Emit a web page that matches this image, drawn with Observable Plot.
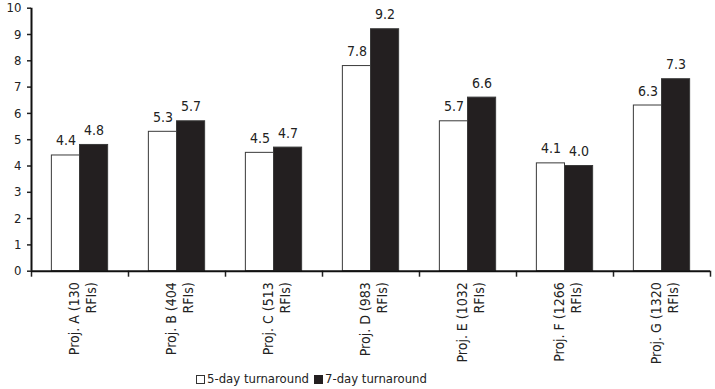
<!DOCTYPE html>
<html>
<head>
<meta charset="utf-8">
<script src="https://cdn.jsdelivr.net/npm/d3@7"></script>
<script src="https://cdn.jsdelivr.net/npm/@observablehq/plot@0.6"></script>
<style>
  html, body { margin: 0; padding: 0; background: #fff; }
  body { font-family: "DejaVu Sans Condensed", "Liberation Sans", sans-serif; color: #222; }
  #chart svg { display: block; }
  .legend { display: flex; align-items: center; height: 22px; padding-left: 196px; font-size: 13px; line-height: 22px; }
  .legend .sw { display: inline-block; width: 9px; height: 9px; box-sizing: border-box; margin-right: 2px; }
  .legend .item { display: flex; align-items: center; margin-right: 5px; }
</style>
</head>
<body>
<div id="chart"></div>
<div class="legend">
  <span class="item"><span class="sw" style="background:#fff;border:1px solid #333"></span><span id="lab5"></span></span>
  <span class="item"><span class="sw" style="background:#231f20"></span><span id="lab7"></span></span>
</div>
<script>
// Projects and their RFI counts
const projects = ["A", "B", "C", "D", "E", "F", "G"];
const rfis = [130, 404, 513, 983, 1032, 1266, 1320];

// Series names and values
const seriesNames = ["5-day turnaround", "7-day turnaround"];
const fiveDay = [4.4, 5.3, 4.5, 7.8, 5.7, 4.1, 6.3];
const sevenDay = [4.8, 5.7, 4.7, 9.2, 6.6, 4.0, 7.3];

// Y axis ticks
const yTicks = [0, 1, 2, 3, 4, 5, 6, 7, 8, 9, 10];

const rows = projects.flatMap((p, i) => [
  {i, series: seriesNames[0], value: fiveDay[i]},
  {i, series: seriesNames[1], value: sevenDay[i]}
]);

// each project occupies one unit on x; the two bars sit side by side in the middle
const slot = {
  [seriesNames[0]]: [0.21, 0.5],
  [seriesNames[1]]: [0.5, 0.79]
};
const fills = {[seriesNames[0]]: "#fff", [seriesNames[1]]: "#231f20"};

const font = `"DejaVu Sans Condensed", "Liberation Sans", sans-serif`;

const chart = Plot.plot({
  width: 715,
  height: 368,
  marginLeft: 31,
  marginRight: 5,
  marginTop: 7.7,
  marginBottom: 97.3,
  style: {fontFamily: font, fontSize: "13px", color: "#222", background: "#fff"},
  x: {type: "linear", domain: [0, projects.length]},
  y: {domain: [0, 10]},
  marks: [
    Plot.rectY(rows, {
      x1: d => d.i + slot[d.series][0],
      x2: d => d.i + slot[d.series][1],
      y: "value",
      fill: d => fills[d.series],
      stroke: "#3a3a3a",
      strokeWidth: 1
    }),
    Plot.text(rows, {
      x: d => d.i + (slot[d.series][0] + slot[d.series][1]) / 2,
      y: "value",
      text: d => d.value.toFixed(1),
      dy: -10,
      lineAnchor: "bottom",
      fontSize: 14,
      fill: "#222"
    }),
    Plot.text(projects, {
      x: (d, i) => i + 0.5,
      y: () => 0,
      text: (d, i) => `Proj. ${d} (${rfis[i]}\nRFIs)`,
      rotate: -90,
      textAnchor: "end",
      lineAnchor: "middle",
      lineHeight: 1.2,
      fontSize: 14,
      dx: 2,
      dy: 11,
      fill: "#222"
    }),
    Plot.axisY({ticks: yTicks, tickSize: 4, tickPadding: 6, tickFormat: d => String(d), label: null, strokeWidth: 1.5}),
    Plot.axisX({ticks: d3.range(0, projects.length + 1), tickSize: 6, tickFormat: () => "", label: null, strokeWidth: 1.5}),
    Plot.ruleY([0], {stroke: "#111", strokeWidth: 2}),
    Plot.ruleX([0], {stroke: "#111", strokeWidth: 2})
  ]
});

document.getElementById("chart").append(chart);
document.getElementById("lab5").textContent = seriesNames[0];
document.getElementById("lab7").textContent = seriesNames[1];
</script>
</body>
</html>
